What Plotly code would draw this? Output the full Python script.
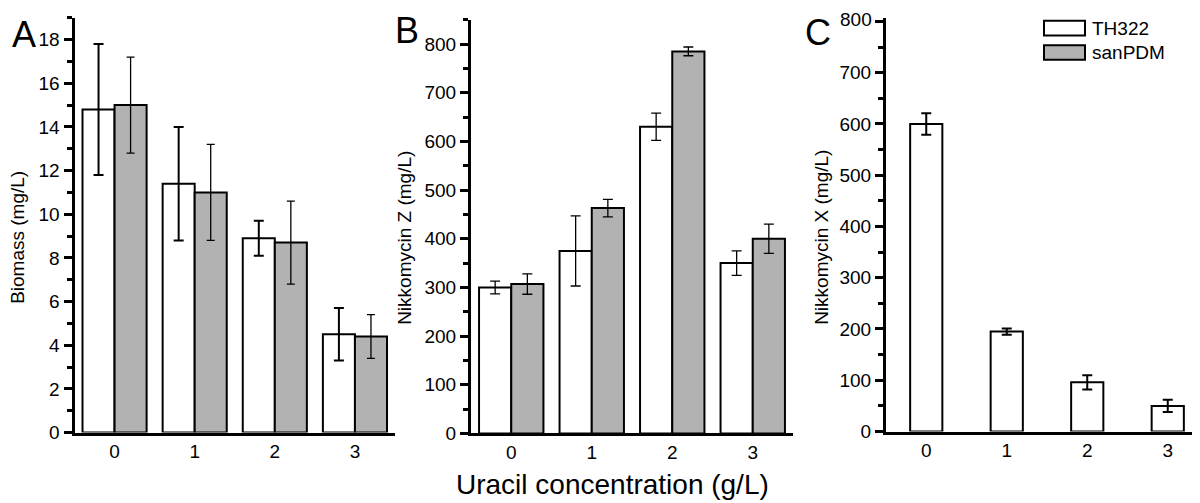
import plotly.graph_objects as go

# ---- data ----
concentrations = ["0", "1", "2", "3"]
x_pos = [0, 1, 2, 3]

biomass_th322 = [14.8, 11.4, 8.9, 4.5]
biomass_th322_err = [3.0, 2.6, 0.8, 1.2]
biomass_sanpdm = [15.0, 11.0, 8.7, 4.4]
biomass_sanpdm_err = [2.2, 2.2, 1.9, 1.0]

nikz_th322 = [300, 375, 630, 350]
nikz_th322_err = [13, 72, 28, 25]
nikz_sanpdm = [307, 463, 785, 400]
nikz_sanpdm_err = [21, 18, 9, 30]

nikx_th322 = [600, 195, 96, 50]
nikx_th322_err = [21, 6, 14, 12]
nikx_ticks = [0, 100, 200, 300, 400, 500, 600, 700, 800]

series_names = ["TH322", "sanPDM"]

# ---- style ----
W, H = 1200, 503
FONT = "Liberation Sans, Arial, sans-serif"
WHITE = "#ffffff"
GRAY = "#b2b2b2"
EDGE = dict(color="black", width=2)


def px_x(p):
    return p / W


def px_y(p):
    return 1 - p / H


fig = go.Figure()


def add_bar(x, y, err, name, color, xa, ya, thick, cap, width=None):
    fig.add_trace(go.Bar(
        x=x, y=y, name=name, xaxis=xa, yaxis=ya,
        marker=dict(color=color, line=EDGE),
        width=width,
        error_y=dict(type="data", array=err, color="black",
                     thickness=thick, width=cap),
        showlegend=False,
    ))


# Panel A
add_bar(x_pos, biomass_th322, biomass_th322_err, series_names[0], WHITE, "x", "y", 2, 5)
add_bar(x_pos, biomass_sanpdm, biomass_sanpdm_err, series_names[1], GRAY, "x", "y", 1.3, 4)
# Panel B
add_bar(x_pos, nikz_th322, nikz_th322_err, series_names[0], WHITE, "x2", "y2", 1.3, 5)
add_bar(x_pos, nikz_sanpdm, nikz_sanpdm_err, series_names[1], GRAY, "x2", "y2", 1.3, 5)
# Panel C
add_bar(x_pos, nikx_th322, nikx_th322_err, series_names[0], WHITE, "x3", "y3", 2, 5, width=0.4)

tickfont = dict(family=FONT, size=19, color="black")


def xaxis(domain, anchor):
    return dict(domain=domain, anchor=anchor, range=[-0.5, 3.5],
                tickvals=x_pos, ticktext=concentrations, ticks="",
                showline=True, linecolor="black", linewidth=3,
                showgrid=False, zeroline=False, tickfont=tickfont,
                ticklabelstandoff=0)


def yaxis(domain, anchor, rng, dtick, mdtick, **kw):
    d = dict(domain=domain, anchor=anchor, range=rng, dtick=dtick,
             ticks="outside", ticklen=8, tickwidth=2.5, tickcolor="black",
             minor=dict(dtick=mdtick, ticks="outside", ticklen=5,
                        tickwidth=2.5, tickcolor="black"),
             showline=True, linecolor="black", linewidth=3,
             showgrid=False, zeroline=False, tickfont=tickfont)
    d.update(kw)
    return d


# top label of panel C is placed as an annotation so it does not push the margins
c_ticktext = [str(v) for v in nikx_ticks[:-1]] + [""]

fig.update_layout(
    width=W, height=H,
    margin=dict(l=0, r=0, t=0, b=0),
    paper_bgcolor="white", plot_bgcolor="white",
    barmode="group", bargap=0.2, bargroupgap=0,
    showlegend=False,
    font=dict(family=FONT, color="black"),
    xaxis=xaxis([px_x(66.5), px_x(387)], "y"),
    yaxis=yaxis([px_y(434), px_y(10)], "x", [0, 19], 2, 1),
    xaxis2=xaxis([px_x(463), px_x(785)], "y2"),
    yaxis2=yaxis([px_y(435), px_y(12)], "x2", [0, 850], 100, 50),
    xaxis3=xaxis([px_x(878), px_x(1200)], "y3"),
    yaxis3=yaxis([px_y(433), px_y(10)], "x3", [0, 807], 100, 50,
                 tickmode="array", tickvals=nikx_ticks, ticktext=c_ticktext),
)

annotations = []
# top tick label of panel C (y = 800, in data coordinates of y3)
annotations.append(dict(text=str(nikx_ticks[-1]), x=0, xref="x3 domain", y=nikx_ticks[-1], yref="y3",
                        xshift=-12, yshift=2, showarrow=False, font=tickfont,
                        xanchor="right", yanchor="middle"))
# panel letters
for letter, cx, cy in [("A", 15.5, 27), ("B", 399, 23), ("C", 810, 25)]:
    annotations.append(dict(text=letter, x=px_x(cx), y=px_y(cy), xref="paper", yref="paper",
                            showarrow=False, font=dict(family=FONT, size=36, color="black"),
                            xanchor="center", yanchor="middle"))
# y titles
for title, cx, cy in [("Biomass (mg/L)", 10, 235), ("Nikkomycin Z (mg/L)", 397, 235),
                      ("Nikkomycin X (mg/L)", 814, 235)]:
    annotations.append(dict(text=title, x=px_x(cx), y=px_y(cy), xref="paper", yref="paper",
                            showarrow=False, textangle=-90,
                            font=dict(family=FONT, size=19, color="black"),
                            xanchor="center", yanchor="middle"))
# x title
annotations.append(dict(text="Uracil concentration (g/L)", x=px_x(604), y=px_y(487),
                        xref="paper", yref="paper", showarrow=False,
                        font=dict(family=FONT, size=28, color="black"),
                        xanchor="center", yanchor="middle"))

# legend (drawn manually to match the wide swatches)
shapes = []
for name, color, top in [(series_names[0], WHITE, 13), (series_names[1], GRAY, 38)]:
    shapes.append(dict(type="rect", xref="paper", yref="paper",
                       x0=px_x(1036), x1=px_x(1077), y0=px_y(top + 15), y1=px_y(top),
                       fillcolor=color, line=dict(color="black", width=2)))
    annotations.append(dict(text=name, x=px_x(1082), y=px_y(top + 8), xref="paper", yref="paper",
                            showarrow=False, font=dict(family=FONT, size=19, color="black"),
                            xanchor="left", yanchor="middle"))

fig.update_layout(annotations=annotations, shapes=shapes)

fig.write_html("out.html")
